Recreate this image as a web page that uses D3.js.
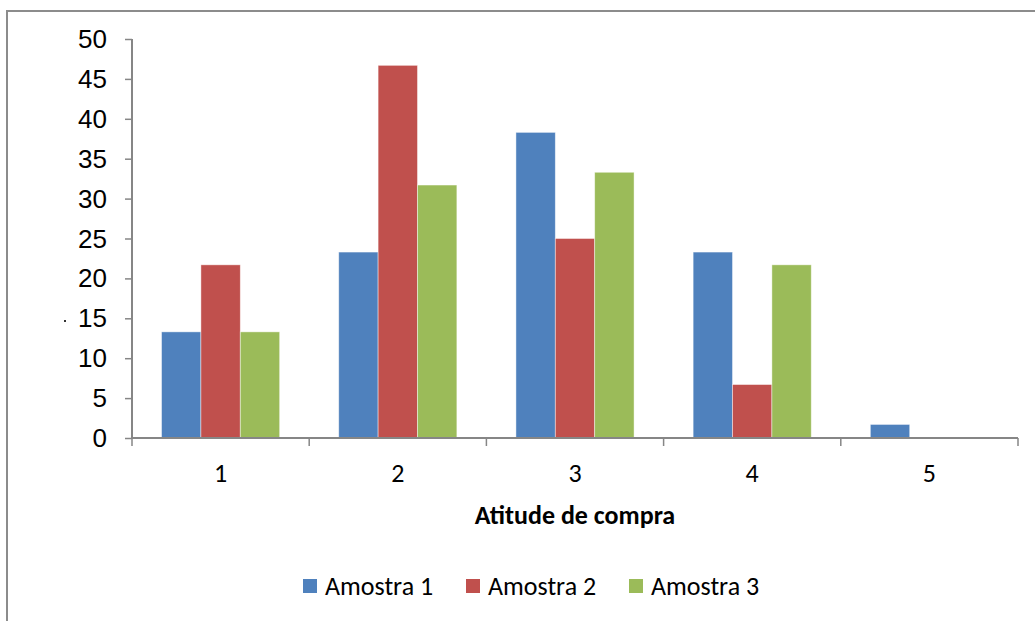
<!DOCTYPE html>
<html>
<head>
<meta charset="utf-8">
<script src="https://cdn.jsdelivr.net/npm/d3@7"></script>
<style>
  html, body { margin: 0; padding: 0; background: #fff; }
  svg { display: block; font-family: Carlito, Calibri, Lato, "Open Sans", sans-serif; }
</style>
</head>
<body>
<svg id="chart" width="1035" height="621"></svg>
<script>
// Categories on the x axis (attitude scale 1–5)
const categories = ["1", "2", "3", "4", "5"];
const seriesNames = ["Amostra 1", "Amostra 2", "Amostra 3"];
// Percentages per sample
const amostra1 = [13.3, 23.3, 38.3, 23.3, 1.7];
const amostra2 = [21.7, 46.7, 25.0, 6.7, 0];
const amostra3 = [13.3, 31.7, 33.3, 21.7, 0];
const yTicks = [0, 5, 10, 15, 20, 25, 30, 35, 40, 45, 50];
const colors = ["#4F81BD", "#C0504D", "#9BBB59"];
const xTitle = "Atitude de compra";

const series = [amostra1, amostra2, amostra3];
const svg = d3.select("#chart");
const axisColor = "#868686";
const fontSize = "26px";

// Outer frame (top and left edges visible)
svg.append("line").attr("x1", 7).attr("x2", 1035).attr("y1", 11).attr("y2", 11)
  .attr("stroke", "#8c8c8c").attr("stroke-width", 2);
svg.append("line").attr("x1", 7).attr("x2", 7).attr("y1", 10).attr("y2", 621)
  .attr("stroke", "#8c8c8c").attr("stroke-width", 2);

const plot = { left: 132, right: 1018, top: 39, bottom: 438 };

const x0 = d3.scaleBand().domain(categories).range([plot.left, plot.right]).paddingInner(0).paddingOuter(0);
const x1 = d3.scaleBand().domain(seriesNames).range([0, x0.bandwidth()]).paddingOuter(0.75).paddingInner(0);
const y = d3.scaleLinear().domain([0, 50]).range([plot.bottom, plot.top]);

// Bars
categories.forEach((c, i) => {
  const g = svg.append("g").attr("transform", `translate(${x0(c)},0)`);
  series.forEach((s, j) => {
    const v = s[i];
    if (v <= 0) return;
    g.append("rect")
      .attr("x", x1(seriesNames[j]))
      .attr("y", y(v))
      .attr("width", x1.bandwidth())
      .attr("height", y(0) - y(v))
      .attr("fill", colors[j])
      .attr("stroke", "rgba(255,255,255,0.55)")
      .attr("stroke-width", 0.8);
  });
});

// Y axis
const yAxis = d3.axisLeft(y).tickValues(yTicks).tickSize(7).tickPadding(18).tickFormat(d3.format("d"));
const yG = svg.append("g").attr("transform", `translate(${plot.left},0)`).call(yAxis);
yG.select(".domain").attr("stroke", axisColor).attr("stroke-width", 2).attr("d", `M0,${plot.top}V${plot.bottom}`);
yG.selectAll(".tick line").attr("stroke", axisColor).attr("stroke-width", 1.5);
yG.selectAll(".tick text").attr("fill", "#000").style("font-size", fontSize).attr("dy", "0.33em");

// X axis: ticks at category boundaries, labels centred in each band
const xG = svg.append("g").attr("transform", `translate(0,${plot.bottom})`);
xG.append("line").attr("x1", plot.left).attr("x2", plot.right).attr("y1", 0).attr("y2", 0)
  .attr("stroke", axisColor).attr("stroke-width", 2);
const bounds = categories.map(c => x0(c)).concat([x0(categories[categories.length - 1]) + x0.bandwidth()]);
xG.selectAll("line.tk").data(bounds).enter().append("line").attr("class", "tk")
  .attr("x1", d => d).attr("x2", d => d).attr("y1", 0).attr("y2", 8)
  .attr("stroke", axisColor).attr("stroke-width", 1.5);
xG.selectAll("text.lbl").data(categories).enter().append("text").attr("class", "lbl")
  .attr("x", d => x0(d) + x0.bandwidth() / 2).attr("y", 44)
  .attr("text-anchor", "middle").style("font-size", fontSize).text(d => d);

// Axis title
svg.append("text").attr("x", (plot.left + plot.right) / 2).attr("y", 524)
  .attr("text-anchor", "middle").style("font-size", fontSize).style("font-weight", "bold").text(xTitle);

// Stray mark beside the y axis
svg.append("rect").attr("x", 64).attr("y", 320).attr("width", 2).attr("height", 2).attr("fill", "#333");

// Legend
const legendX = [303, 466, 629];
seriesNames.forEach((n, j) => {
  const g = svg.append("g").attr("transform", `translate(${legendX[j]},579)`);
  g.append("rect").attr("width", 14).attr("height", 14).attr("fill", colors[j]);
  g.append("text").attr("x", 22).attr("y", 16).style("font-size", fontSize).text(n);
});
</script>
</body>
</html>
